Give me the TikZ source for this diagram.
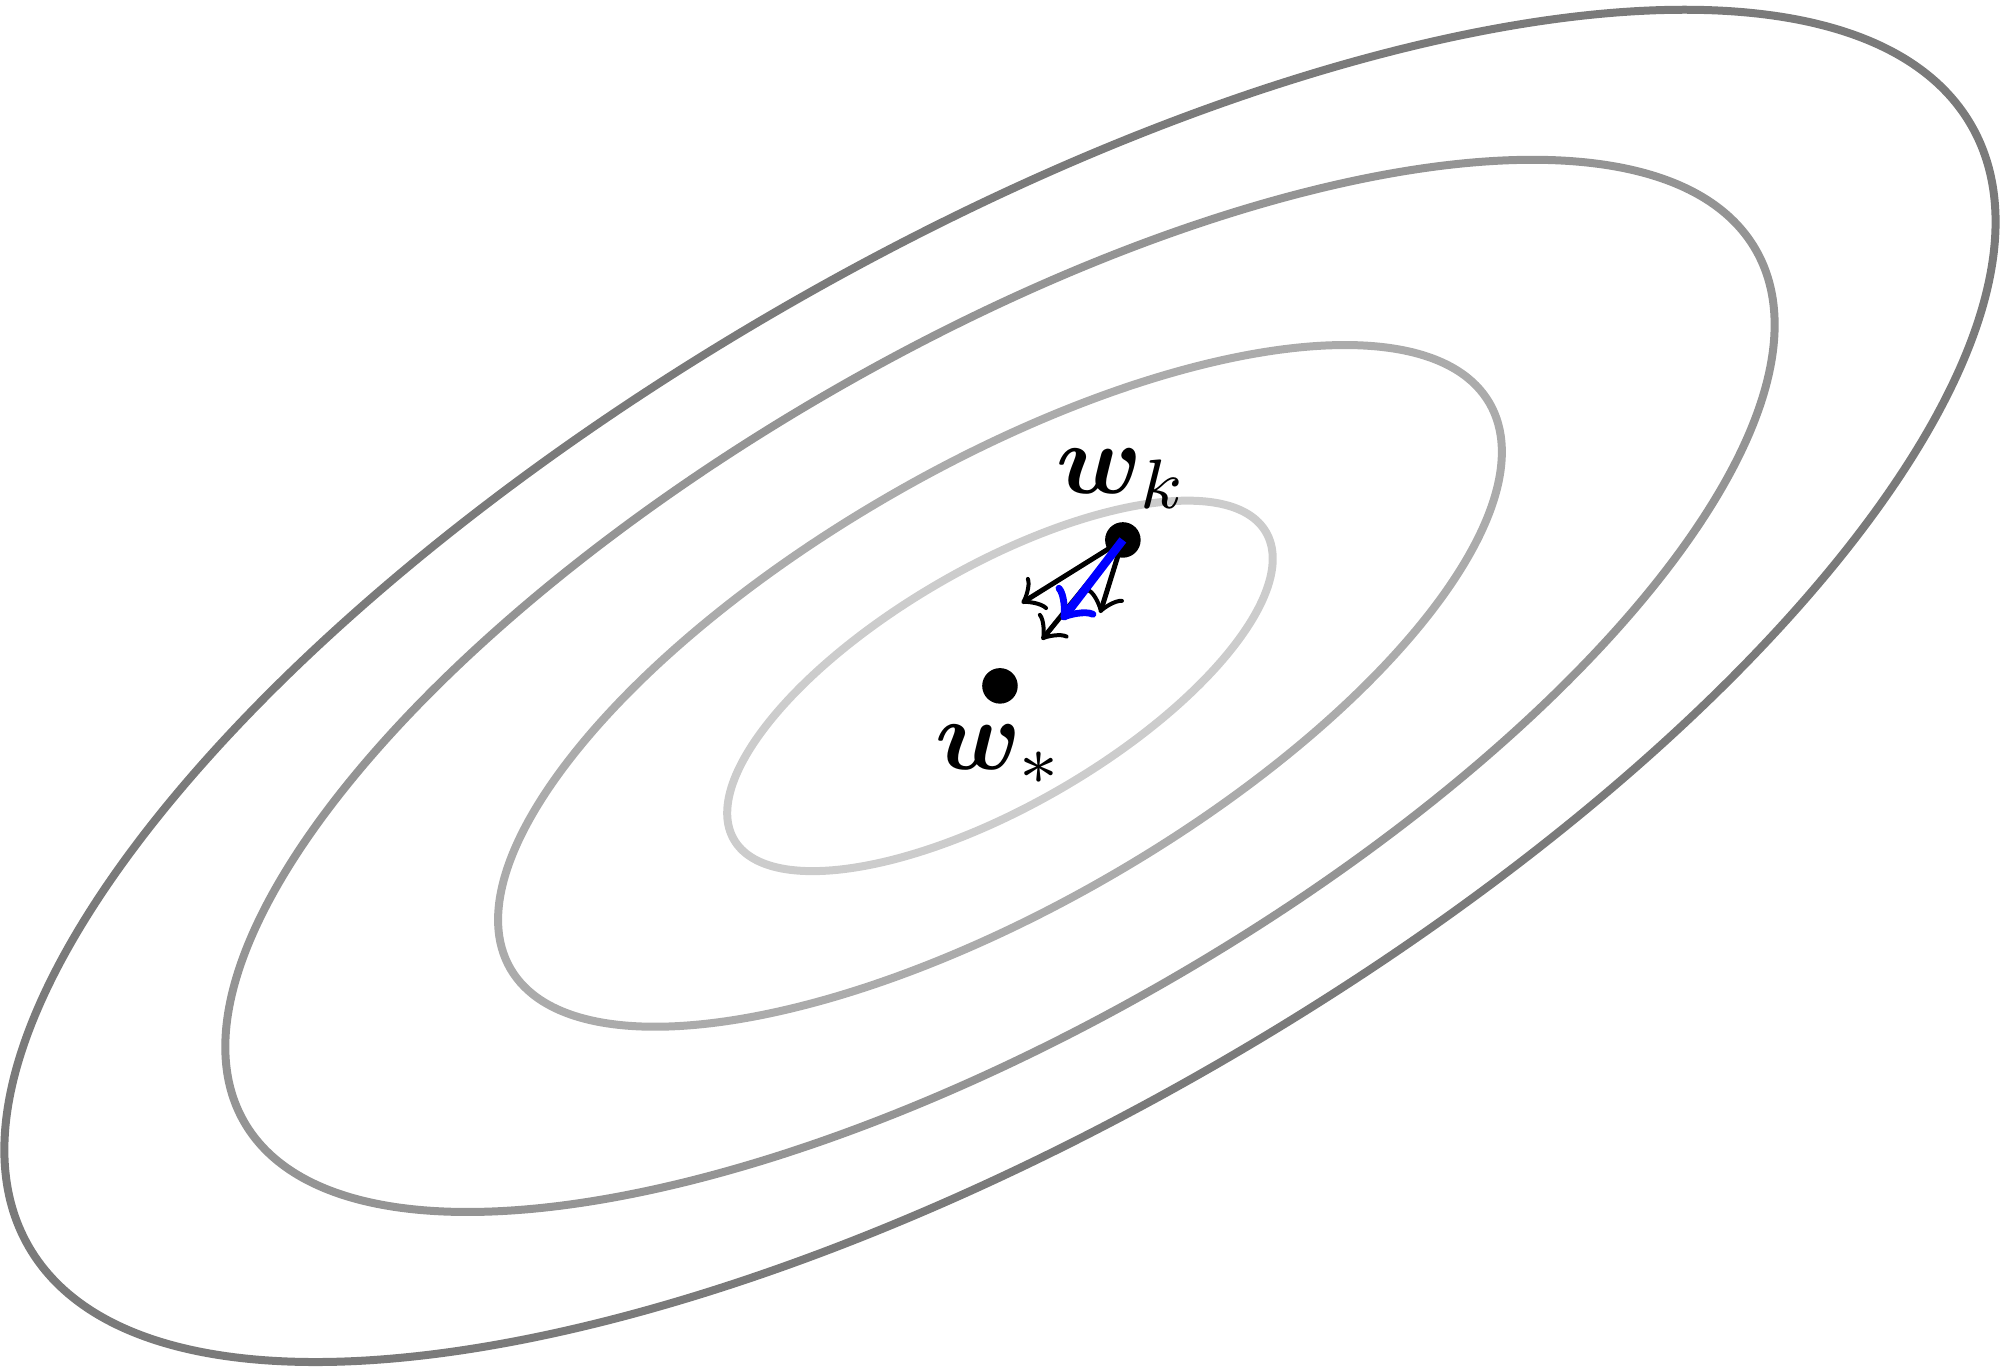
\documentclass[tikz,border=0pt]{standalone}
\usepackage{amsmath,bm}
\usetikzlibrary{positioning}
\tikzset{
  level/.style={line width=.8pt,rotate=30},
  pt/.style={circle,fill,inner sep=0pt,minimum size=1.25mm},
  lab/.style={inner sep=1pt},
  grad/.style={->,line width=.5pt},
}
\begin{document}
\begin{tikzpicture}
  \path[use as bounding box] (-3.515,-2.408) rectangle (3.515,2.411);
  % level sets
  \foreach \s/\c in {1/20,1.84/33,2.84/42,3.65/52}
    \draw[level,black!\c,scale=\s] (0,0) ellipse (1.08 and .42);
  % points
  \node[pt] (ws) at (0,0) {};
  \node[pt] (wk) at (.432,.513) {};
  \node[lab,below=.25mm of ws] (lws) {$\bm{w}_*$};
  \node[lab,above=0mm of wk] (lwk) {$\bm{w}_k$};
  % stochastic gradients
  \coordinate (g1) at (.076,.291);
  \coordinate (g2) at (.147,.162);
  \coordinate (g3) at (.352,.256);
  \coordinate (gm) at (.217,.232);
  \draw[grad] (wk.center) -- (g1);
  \draw[grad] (wk.center) -- (g2);
  \draw[grad] (wk.center) -- (g3);
  \draw[grad,blue,line width=.85pt] (wk.center) -- (gm);
\end{tikzpicture}
\end{document}
